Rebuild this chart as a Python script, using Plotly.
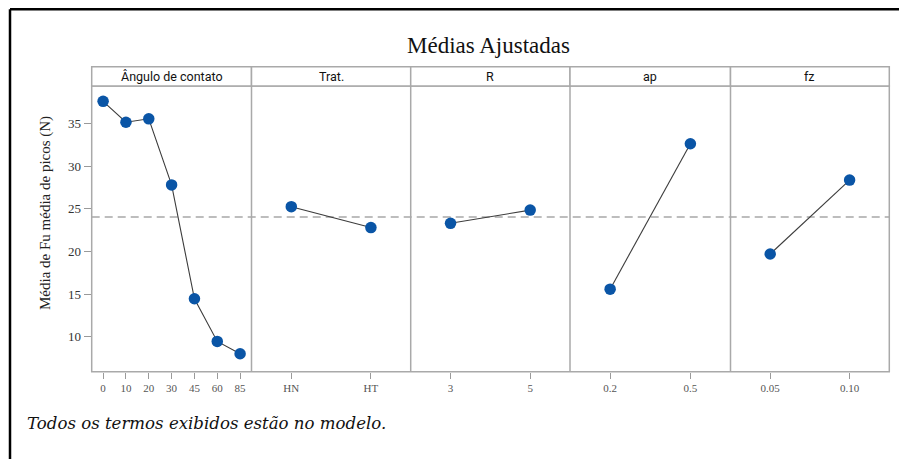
import plotly.graph_objects as go
from plotly.subplots import make_subplots

# ---- data ----
panel_titles = ["Ângulo de contato", "Trat.", "R", "ap", "fz"]
angulo_labels = ["0", "10", "20", "30", "45", "60", "85"]
angulo_vals = [37.6, 35.15, 35.55, 27.8, 14.45, 9.45, 8.0]
trat_labels = ["HN", "HT"]
trat_vals = [25.25, 22.8]
r_labels = ["3", "5"]
r_vals = [23.3, 24.85]
ap_labels = ["0.2", "0.5"]
ap_vals = [15.58, 32.63]
fz_labels = ["0.05", "0.10"]
fz_vals = [19.7, 28.37]
grand_mean = 24.03
y_ticks = [10, 15, 20, 25, 30, 35]

series = [
    (angulo_labels, angulo_vals),
    (trat_labels, trat_vals),
    (r_labels, r_vals),
    (ap_labels, ap_vals),
    (fz_labels, fz_vals),
]

OFF = 8  # page body margin
W, H = 907 - OFF, 459 - OFF
edges_px = [91.7, 251.5, 410.7, 570.0, 730.5, 889.3]
top_px, bot_px, strip_top_px = 86.0, 371.7, 66.7

def px_x(v):
    return (v - OFF) / W

def px_y(v):
    return 1 - (v - OFF) / H

fig = make_subplots(rows=1, cols=5, shared_yaxes=True, horizontal_spacing=0)

marker_color = "#0a55a6"
frame_col = "#a9a9a9"

for i, (labs, vals) in enumerate(series):
    fig.add_trace(
        go.Scatter(
            x=labs, y=vals, mode="lines+markers",
            line=dict(color="#3c3c3c", width=1.1),
            marker=dict(color=marker_color, size=11.5, symbol="circle"),
            showlegend=False, hoverinfo="skip",
        ),
        row=1, col=i + 1,
    )
    n = len(labs)
    ax = "xaxis" if i == 0 else f"xaxis{i+1}"
    fig.layout[ax].update(
        domain=[px_x(edges_px[i]), px_x(edges_px[i + 1])],
        type="category",
        range=[-0.5, n - 0.5],
        showline=False, showgrid=False, zeroline=False,
        ticks="outside", ticklen=6, tickcolor="#9a9a9a", tickwidth=1,
        tickfont=dict(family="Liberation Serif", size=11, color="#555555"),
        fixedrange=True,
    )
    ay = "yaxis" if i == 0 else f"yaxis{i+1}"
    fig.layout[ay].update(
        domain=[px_y(bot_px), px_y(top_px)],
        range=[5.9, 39.4],
        showline=False, showgrid=False, zeroline=False,
        tickvals=y_ticks,
        showticklabels=(i == 0),
        ticks="outside" if i == 0 else "",
        ticklen=7, tickcolor="#9a9a9a", tickwidth=1,
        tickfont=dict(family="Liberation Serif", size=13, color="#333333"),
    )

shapes = []
# reference mean line
shapes.append(dict(
    type="line", xref="paper", yref="y",
    x0=px_x(edges_px[0]), x1=px_x(edges_px[-1]), y0=grand_mean, y1=grand_mean,
    line=dict(color="#a8a8a8", width=1.5, dash="8px,5px"), layer="below",
))
# panel frame
shapes.append(dict(
    type="rect", xref="paper", yref="paper",
    x0=px_x(edges_px[0]), x1=px_x(edges_px[-1]),
    y0=px_y(bot_px), y1=px_y(top_px),
    line=dict(color=frame_col, width=1.5), fillcolor="rgba(0,0,0,0)", layer="below",
))
for e in edges_px[1:-1]:
    shapes.append(dict(
        type="line", xref="paper", yref="paper",
        x0=px_x(e), x1=px_x(e), y0=px_y(bot_px), y1=px_y(top_px),
        line=dict(color=frame_col, width=1.5), layer="below",
    ))
# strip headers
for i in range(5):
    shapes.append(dict(
        type="rect", xref="paper", yref="paper",
        x0=px_x(edges_px[i]), x1=px_x(edges_px[i + 1]),
        y0=px_y(top_px), y1=px_y(strip_top_px),
        line=dict(color=frame_col, width=1.5), fillcolor="white",
    ))
# outer black frame (left and top edges only visible)
shapes.append(dict(
    type="line", xref="paper", yref="paper",
    x0=px_x(10), x1=px_x(10), y0=-0.05, y1=px_y(9.2),
    line=dict(color="black", width=2.5),
))
shapes.append(dict(
    type="line", xref="paper", yref="paper",
    x0=px_x(10), x1=1.0, y0=px_y(9.2), y1=px_y(9.2),
    line=dict(color="black", width=2.5),
))

annotations = []
for i, t in enumerate(panel_titles):
    annotations.append(dict(
        text=t, xref="paper", yref="paper",
        x=px_x((edges_px[i] + edges_px[i + 1]) / 2), y=px_y((top_px + strip_top_px) / 2),
        xanchor="center", yanchor="middle", showarrow=False,
        font=dict(family="Roboto", size=12.5, color="#111111"),
    ))
annotations.append(dict(
    text="Médias Ajustadas", xref="paper", yref="paper",
    x=px_x(488), y=px_y(45), xanchor="center", yanchor="middle", showarrow=False,
    font=dict(family="Liberation Serif", size=23, color="#111111"),
))
annotations.append(dict(
    text="Média de Fu média de picos (N)", xref="paper", yref="paper",
    x=px_x(45), y=px_y(213), xanchor="center", yanchor="middle", showarrow=False,
    textangle=-90,
    font=dict(family="Liberation Serif", size=15, color="#222222"),
))
annotations.append(dict(
    text="<i>Todos os termos exibidos estão no modelo.</i>", xref="paper", yref="paper",
    x=px_x(25), y=px_y(423), xanchor="left", yanchor="middle", showarrow=False,
    font=dict(family="DejaVu Serif", size=16.6, color="#111111"),
))

fig.update_layout(
    width=W, height=H,
    margin=dict(l=0, r=0, t=0, b=0),
    paper_bgcolor="white", plot_bgcolor="white",
    shapes=shapes, annotations=annotations,
    showlegend=False,
)

fig.write_html("out.html")
